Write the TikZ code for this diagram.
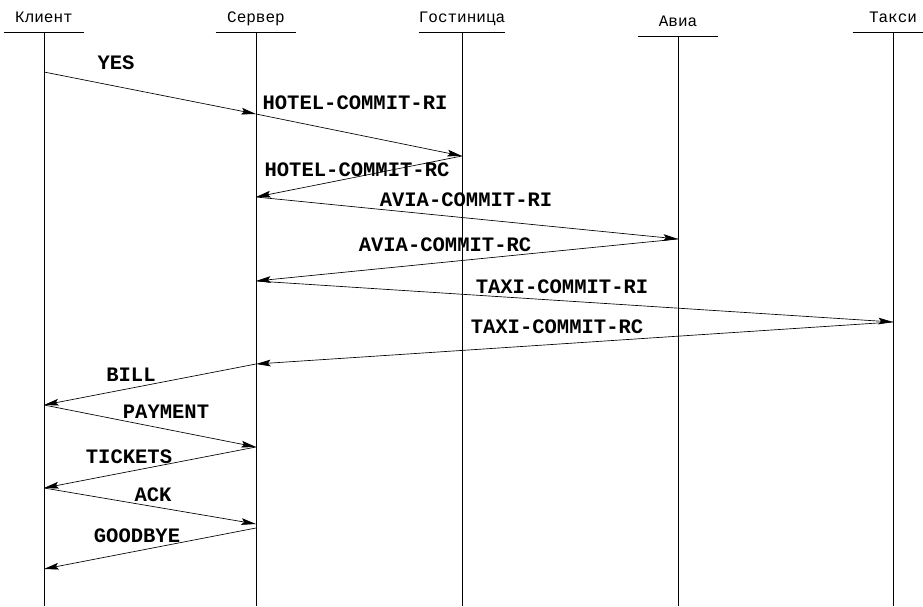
\documentclass[tikz,border=0pt]{standalone}
\usepackage{fontspec}
\newfontfamily\ttcyr{Liberation Mono}
\usetikzlibrary{arrows.meta}

\begin{document}
\begin{tikzpicture}[x=0.75pt,y=-0.75pt,>={Stealth[length=11pt,width=5pt,inset=2pt]},
  head/.style={anchor=base,inner xsep=0pt,inner ysep=0pt,minimum width=60pt,
    text depth=6.75pt,font=\ttcyr\fontsize{12}{14}\selectfont},
  lbl/.style={inner sep=0pt,font=\ttcyr\bfseries\fontsize{15.4}{18}\selectfont},
  life/.style={line width=0.5pt},
  msg/.style={->,line width=0.5pt}]
  \useasboundingbox (0,0) rectangle (923,606);

  % processes
  \node[head] (klient) at (44,23) {Клиент};
  \node[head] (server) at (256,23) {Сервер};
  \node[head] (hotel) at (462,23) {Гостиница};
  \node[head] (avia) at (678,27) {Авиа};
  \node[head] (taxi) at (893,23) {Такси};
  \foreach \p in {klient,server,hotel,avia,taxi} {
    \draw[life] (\p.south west) -- (\p.south east);
    \draw[life] (\p.south) -- (\p.south |- 0,606);
  }

  % events on the lifelines
  \coordinate (k1) at (klient.south |- 0,72);
  \coordinate (k2) at (klient.south |- 0,405);
  \coordinate (k3) at (klient.south |- 0,488);
  \coordinate (k4) at (klient.south |- 0,569);
  \coordinate (s1) at (server.south |- 0,114);
  \coordinate (s2) at (server.south |- 0,197);
  \coordinate (s3) at (server.south |- 0,281);
  \coordinate (s4) at (server.south |- 0,364);
  \coordinate (s5) at (server.south |- 0,447);
  \coordinate (s6) at (server.south |- 0,524);
  \coordinate (s7) at (server.south |- 0,528);
  \coordinate (h1) at (hotel.south |- 0,156);
  \coordinate (a1) at (avia.south |- 0,239);
  \coordinate (t1) at (taxi.south |- 0,322);

  % messages
  \draw[msg] (k1) -- (s1);
  \draw[msg] (s1) -- (h1);
  \draw[msg] (h1) -- (s2);
  \draw[msg] (s2) -- (a1);
  \draw[msg] (a1) -- (s3);
  \draw[msg] (s3) -- (t1);
  \draw[msg] (t1) -- (s4);
  \draw[msg] (s4) -- (k2);
  \draw[msg] (k2) -- (s5);
  \draw[msg] (s5) -- (k3);
  \draw[msg] (k3) -- (s6);
  \draw[msg] (s7) -- (k4);

  \node[lbl] (yes) at (116,63) {YES};
  \node[lbl] (hri) at (355,103) {HOTEL-COMMIT-RI};
  \node[lbl] (hrc) at (357,170) {HOTEL-COMMIT-RC};
  \node[lbl] (ari) at (466,200) {AVIA-COMMIT-RI};
  \node[lbl] (arc) at (445,245) {AVIA-COMMIT-RC};
  \node[lbl] (tri) at (562,287) {TAXI-COMMIT-RI};
  \node[lbl] (trc) at (557,327) {TAXI-COMMIT-RC};
  \node[lbl] (bill) at (131,375) {BILL};
  \node[lbl] (pay) at (166,412) {PAYMENT};
  \node[lbl] (tick) at (129,457) {TICKETS};
  \node[lbl] (ack) at (153,495) {ACK};
  \node[lbl] (bye) at (137,536) {GOODBYE};
\end{tikzpicture}
\end{document}
